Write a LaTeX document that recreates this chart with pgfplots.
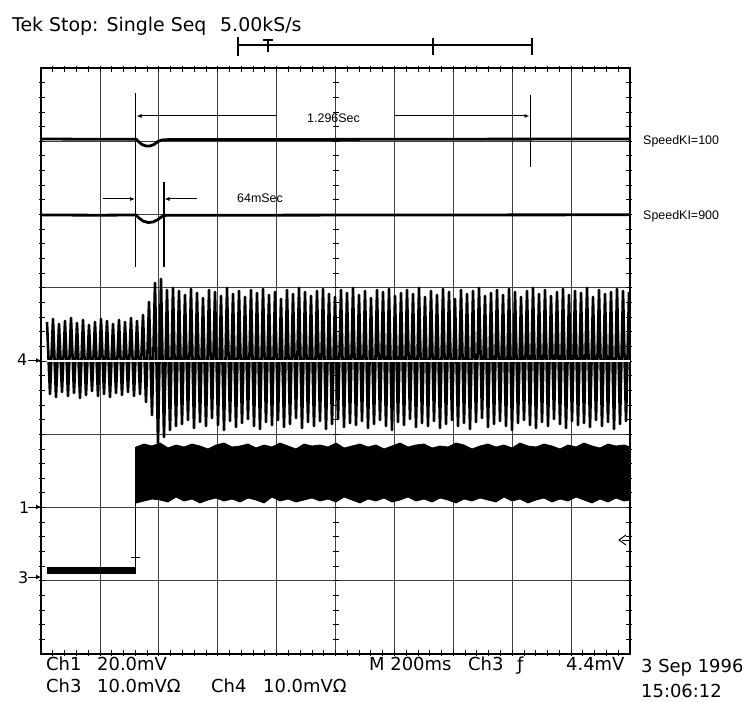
\documentclass[border=0pt]{standalone}
\usepackage{pgfplots}
\pgfplotsset{compat=1.18}
\usepackage{fontspec}
\setmainfont{Liberation Sans}
\newfontfamily\tek{DejaVu Sans}
\usetikzlibrary{arrows.meta}
\newcommand{\tekbig}{\tek\fontsize{19}{19}\selectfont}
\newcommand{\tekmid}{\tek\fontsize{18}{18}\selectfont}
\newcommand{\tekmark}{\tek\fontsize{16}{16}\selectfont}
\newcommand{\annot}{\fontsize{12.5}{12.5}\selectfont}
\begin{document}
\begin{tikzpicture}[x=1bp,y=1bp]
\useasboundingbox (0,0) rectangle (742,702);
\begin{axis}[
  at={(41bp,48bp)}, anchor=south west,
  scale only axis, width=589bp, height=586bp,
  xmin=41, xmax=630, ymin=68, ymax=654, y dir=reverse,
  xtick={41,99.9,158.8,217.7,276.6,335.5,394.4,453.3,512.2,571.1,630},
  ytick={68,141.25,214.5,287.75,361,434.25,507.5,580.75,654},
  xticklabels={}, yticklabels={},
  grid=major, major grid style={black!75, line width=0.8bp},
  major tick length=0pt,
  axis line style={black, line width=1.3bp},
  clip=false,
]
% frame and centre graticule ticks
\pgfplotsinvokeforeach{1,...,39}{
  \draw[black, line width=0.8bp] (axis cs:332.5,{68+14.65*#1}) -- (axis cs:338.5,{68+14.65*#1});
  \draw[black, line width=0.8bp] (axis cs:39,{68+14.65*#1}) -- (axis cs:45,{68+14.65*#1});
  \draw[black, line width=0.8bp] (axis cs:626,{68+14.65*#1}) -- (axis cs:632,{68+14.65*#1});
}
\pgfplotsinvokeforeach{1,...,49}{
  \draw[black, line width=0.8bp] (axis cs:{41+11.78*#1},66) -- (axis cs:{41+11.78*#1},72);
  \draw[black, line width=0.8bp] (axis cs:{41+11.78*#1},650) -- (axis cs:{41+11.78*#1},656);
}

% Ch1 traces
\addplot[black, line width=2.8bp] coordinates {(41,139)(100,139.3)(136,139.2)(139,142)(142,144.5)(146,146)(150,146)(154,144.5)(158,141.5)(162,140)(170,139.5)(250,139.6)(336,139.4)(450,139.2)(630,139)};
\addplot[black, line width=2.8bp] coordinates {(41,215)(100,215.2)(136,215)(139,218)(143,221)(148,222.5)(153,222)(158,219.5)(162,216.5)(166,215.3)(250,215.2)(400,215)(630,214.8)};

% Ch4 oscillation
\addplot[black, line width=2.6bp, line join=round] coordinates {
(47,322)(50,394)(53,319)(56,397)(59,324)(62,392)(65,321)(68,396)(71,318)(74,393)(77,323)(80,398)(83,320)(86,395)(89,325)(92,391)(95,322)(98,396)(101,319)(104,394)(107,321)(110,397)(113,324)(116,393)(119,320)(122,395)(125,322)(128,392)(131,318)(134,396)(137,321)(140,394)(143,315)(146,402)
(149,302)(152,415)(155,283)(158,443)(161,279)(164,437)(167,290)(170,430)(173,288)(176,426)
(179,291)(182,424)(185,295)(188,420)(191,289)(194,428)(197,293)(200,422)(203,298)(206,426)
(209,290)(212,418)(215,292)(218,425)(221,296)(224,430)(227,288)(230,421)(233,294)(236,427)
(239,291)(242,423)(245,297)(248,419)(251,290)(254,426)(257,293)(260,429)(263,289)(266,422)
(269,295)(272,425)(275,292)(278,420)(281,299)(284,427)(287,290)(290,424)(293,294)(296,418)
(299,288)(302,428)(305,292)(308,422)(311,296)(314,426)(317,291)(320,421)(323,289)(326,429)
(329,294)(332,424)(335,297)(338,419)(341,290)(344,427)(347,293)(350,423)(353,288)(356,425)
(359,295)(362,421)(365,291)(368,428)(371,298)(374,424)(377,290)(380,420)(383,292)(386,426)
(389,289)(392,430)(395,296)(398,422)(401,293)(404,425)(407,290)(410,419)(413,294)(416,427)
(419,288)(422,423)(425,297)(428,426)(431,291)(434,421)(437,295)(440,428)(443,289)(446,424)
(449,292)(452,420)(455,299)(458,426)(461,290)(464,423)(467,294)(470,429)(473,291)(476,422)
(479,288)(482,418)(485,296)(488,427)(491,293)(494,424)(497,290)(500,421)(503,295)(506,426)
(509,289)(512,430)(515,292)(518,423)(521,297)(524,420)(527,291)(530,425)(533,288)(536,428)
(539,294)(542,422)(545,290)(548,426)(551,296)(554,419)(557,292)(560,424)(563,289)(566,428)
(569,295)(572,421)(575,291)(578,425)(581,293)(584,423)(587,288)(590,427)(593,297)(596,420)
(599,290)(602,426)(605,294)(608,422)(611,292)(614,429)(617,289)(620,424)(623,291)(626,421)
(629,292)};
\addplot[white, line width=1.2bp] coordinates {(47,361)(630,361)};

% Ch3 low level, step and band
\addplot[black, line width=7bp] coordinates {(47,570.5)(135,570.5)};
\addplot[black, line width=1.6bp] coordinates {(135.5,574)(135.5,447)};
\addplot[black, line width=1bp] coordinates {(131,557)(140,557)};
\addplot[fill=black, draw=black, line width=0.8bp] coordinates {
(136,447)(144,444)(152,446)(160,443)(168,448)(176,445)(184,447)(192,444)(200,446)(208,449)
(216,445)(224,443)(232,447)(240,446)(248,444)(256,448)(264,445)(272,447)(280,443)(288,446)
(296,449)(304,444)(312,446)(320,445)(328,447)(336,443)(344,448)(352,446)(360,444)(368,447)
(376,445)(384,449)(392,446)(400,443)(408,447)(416,445)(424,444)(432,448)(440,446)(448,447)
(456,443)(464,445)(472,449)(480,446)(488,444)(496,447)(504,445)(512,448)(520,443)(528,446)
(536,447)(544,444)(552,446)(560,449)(568,445)(576,447)(584,443)(592,446)(600,448)(608,444)
(616,446)(624,445)(630,447)
(630,500)(624,501)(616,498)(608,502)(600,499)(592,503)(584,500)(576,497)(568,501)(560,499)(552,502)
(544,498)(536,500)(528,503)(520,499)(512,501)(504,497)(496,502)(488,500)(480,498)(472,501)
(464,499)(456,503)(448,500)(440,498)(432,502)(424,499)(416,501)(408,497)(400,500)(392,502)
(384,498)(376,501)(368,499)(360,503)(352,500)(344,497)(336,502)(328,499)(320,501)(312,498)
(304,500)(296,502)(288,499)(280,501)(272,497)(264,503)(256,500)(248,498)(240,502)(232,499)
(224,501)(216,498)(208,500)(200,503)(192,499)(184,501)(176,497)(168,502)(160,500)(152,499)
(144,501)(136,503)} -- cycle;

% cursors and measurement arrows
\addplot[black, line width=1.3bp] coordinates {(135.7,93)(135.7,267)};
\addplot[black, line width=1.3bp] coordinates {(164,182)(164,267)};
\addplot[black, line width=1.3bp] coordinates {(530.5,95)(530.5,167)};
\addplot[black, line width=1bp, -{Latex[length=5bp,width=4bp]}] coordinates {(276.6,116)(136.5,116)};
\addplot[black, line width=1bp, -{Latex[length=5bp,width=4bp]}] coordinates {(395,116)(529.5,116)};
\addplot[black, line width=1bp, -{Latex[length=5bp,width=4bp]}] coordinates {(103,199)(135,199)};
\addplot[black, line width=1bp, -{Latex[length=5bp,width=4bp]}] coordinates {(197,199)(164.5,199)};
\node[anchor=base west, inner sep=0pt, font=\annot] at (axis cs:307,123) {1.296Sec};
\node[anchor=base west, inner sep=0pt, font=\annot] at (axis cs:237,203) {64mSec};

% record bar at top
\addplot[black, line width=1.3bp] coordinates {(238,45)(532,45)};
\addplot[black, line width=2bp] coordinates {(238,37)(238,56)};
\addplot[black, line width=1.3bp] coordinates {(433,38)(433,55)};
\addplot[black, line width=1.3bp] coordinates {(532,38)(532,55)};
\addplot[black, line width=1.3bp] coordinates {(263,40)(273,40)};
\addplot[black, line width=1.3bp] coordinates {(268,40)(268,52)};

% channel markers
\node[anchor=base west, inner sep=0pt, font=\tekmark] at (axis cs:17,366) {4};
\draw[black, line width=1bp, -{Latex[length=5bp,width=5bp]}] (axis cs:28,360.5) -- (axis cs:41,360.5);
\node[anchor=base west, inner sep=0pt, font=\tekmark] at (axis cs:19,513) {1};
\draw[black, line width=1bp, -{Latex[length=5bp,width=5bp]}] (axis cs:28,507) -- (axis cs:41,507);
\node[anchor=base west, inner sep=0pt, font=\tekmark] at (axis cs:18,583) {3};
\draw[black, line width=1bp, -{Latex[length=5bp,width=5bp]}] (axis cs:28,577) -- (axis cs:41,577);
\draw[black, line width=1bp] (axis cs:626,535) -- (axis cs:619,540) -- (axis cs:626,545);
\draw[black, line width=1bp] (axis cs:622,540) -- (axis cs:629,540);

% right labels
\node[anchor=base west, inner sep=0pt, font=\annot] at (axis cs:643,144.5) {SpeedKI=100};
\node[anchor=base west, inner sep=0pt, font=\annot] at (axis cs:643,219.5) {SpeedKI=900};

% header
\node[anchor=base west, inner sep=0pt, font=\tekbig] at (axis cs:12,32) {Tek Stop: Single Seq};
\node[anchor=base west, inner sep=0pt, font=\tekbig] at (axis cs:220,32) {5.00kS/s};

% footer
\node[anchor=base west, inner sep=0pt, font=\tekmid] at (axis cs:46,670) {Ch1};
\node[anchor=base west, inner sep=0pt, font=\tekmid] at (axis cs:97,670) {20.0mV};
\node[anchor=base west, inner sep=0pt, font=\tekmid] at (axis cs:369,670) {M 200ms};
\node[anchor=base west, inner sep=0pt, font=\tekmid] at (axis cs:468,670) {Ch3};
\node[anchor=base west, inner sep=0pt, font=\tekmid] at (axis cs:517,670) {ƒ};
\node[anchor=base west, inner sep=0pt, font=\tekmid] at (axis cs:566,670) {4.4mV};
\node[anchor=base west, inner sep=0pt, font=\tekmid] at (axis cs:641,672) {3 Sep 1996};
\node[anchor=base west, inner sep=0pt, font=\tekmid] at (axis cs:46,692) {Ch3};
\node[anchor=base west, inner sep=0pt, font=\tekmid] at (axis cs:97,692) {10.0mVΩ};
\node[anchor=base west, inner sep=0pt, font=\tekmid] at (axis cs:211,692) {Ch4};
\node[anchor=base west, inner sep=0pt, font=\tekmid] at (axis cs:263,692) {10.0mVΩ};
\node[anchor=base west, inner sep=0pt, font=\tekmid] at (axis cs:641,697) {15:06:12};
\end{axis}
\end{tikzpicture}
\end{document}
